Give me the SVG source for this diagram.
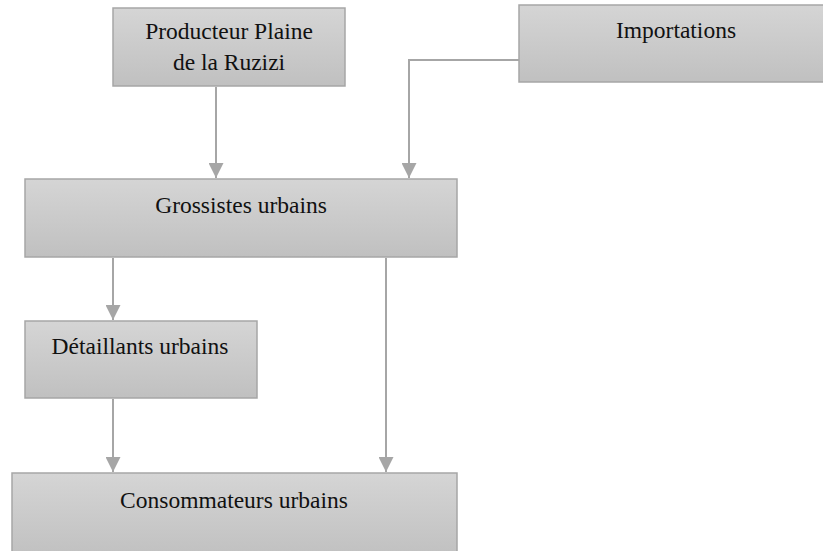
<svg xmlns="http://www.w3.org/2000/svg" width="823" height="551" viewBox="0 0 823 551">
<style>
.box{fill:url(#g);stroke:#a6a6a6;stroke-width:1.5}
.t{font-family:"Liberation Serif","Times New Roman",serif;font-size:23.5px;fill:#111;text-anchor:middle}
.c{fill:none;stroke:#a6a6a6;stroke-width:2}
</style>
<defs>
<linearGradient id="g" x1="0" y1="0" x2="0" y2="1">
<stop offset="0" stop-color="#d5d5d5"/>
<stop offset="1" stop-color="#c0c0c0"/>
</linearGradient>
<marker id="a" viewBox="0 0 10 10" refX="10" refY="5" markerWidth="7.5" markerHeight="7.5" orient="auto" markerUnits="strokeWidth">
<path d="M0,0 L10,5 L0,10 z" fill="#a6a6a6"/>
</marker>
</defs>
<g id="connectors">
<path class="c" d="M216,87 V178" marker-end="url(#a)"/>
<path class="c" d="M519,60 H409 V178" marker-end="url(#a)"/>
<path class="c" d="M113,258 V320" marker-end="url(#a)"/>
<path class="c" d="M386,258 V472" marker-end="url(#a)"/>
<path class="c" d="M113,399 V472" marker-end="url(#a)"/>
</g>
<g id="producteur">
<rect class="box" x="113" y="8" width="232" height="78"/>
<text class="t" x="229" y="39">Producteur Plaine</text>
<text class="t" x="229" y="70">de la Ruzizi</text>
</g>
<g id="importations">
<rect class="box" x="519" y="5" width="310" height="77"/>
<text class="t" x="676" y="38">Importations</text>
</g>
<g id="grossistes">
<rect class="box" x="25" y="179" width="432" height="78"/>
<text class="t" x="241" y="213">Grossistes urbains</text>
</g>
<g id="detaillants">
<rect class="box" x="25" y="321" width="232" height="77"/>
<text class="t" x="140" y="354">Détaillants urbains</text>
</g>
<g id="consommateurs">
<rect class="box" x="12" y="473" width="445" height="85"/>
<text class="t" x="234" y="508">Consommateurs urbains</text>
</g>
</svg>
